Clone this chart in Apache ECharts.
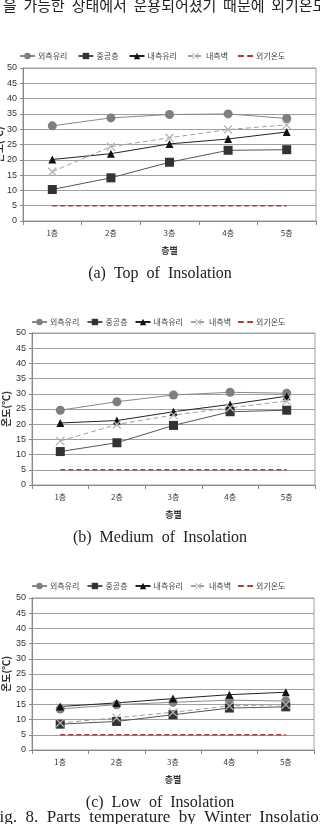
<!DOCTYPE html>
<html><head><meta charset="utf-8">
<script src="https://cdn.jsdelivr.net/npm/echarts@6/dist/echarts.min.js"></script>
<style>html,body{margin:0;padding:0;background:#fff}#c{width:320px;height:824px}</style>
</head><body><div id="c"></div>
<script>
var categories = ['1층','2층','3층','4층','5층'];
var seriesNames = ['외측유리','중공층','내측유리','내측벽','외기온도'];
// (a) Top of Insolation
var topOuter  = [31.1, 33.7, 34.8, 35.0, 33.5];
var topCavity = [10.3, 14.1, 19.2, 23.1, 23.3];
var topInner  = [20.1, 22.0, 25.2, 26.8, 29.1];
var topWall   = [16.1, 24.3, 27.2, 29.9, 31.4];
var topAir    = [5, 5, 5, 5, 5];
// (b) Medium of Insolation
var medOuter  = [24.6, 27.4, 29.6, 30.5, 30.2];
var medCavity = [11.0, 13.9, 19.6, 24.1, 24.6];
var medInner  = [20.4, 21.2, 24.1, 26.5, 29.2];
var medWall   = [14.5, 19.9, 23.0, 25.4, 27.6];
var medAir    = [5, 5, 5, 5, 5];
// (c) Low of Insolation
var lowOuter  = [13.5, 14.9, 15.7, 16.4, 16.1];
var lowCavity = [8.5, 9.4, 11.6, 13.8, 14.2];
var lowInner  = [14.3, 15.5, 16.9, 18.2, 19.0];
var lowWall   = [8.9, 10.6, 12.4, 14.5, 14.9];
var lowAir    = [5, 5, 5, 5, 5];
var yTicks = {min: 0, max: 50, interval: 5};
var captions = ['(a)  Top  of  Insolation','(b)  Medium  of  Insolation','(c)  Low  of  Insolation'];
var headText = '을  가능한  상태에서  운용되어졌기  때문에  외기온도';
var figText = 'Fig.  8.  Parts  temperature  by  Winter  Insolation';

var panels = [
  {data:[topOuter,topCavity,topInner,topWall,topAir], grid:{left:23,top:68,width:293,height:153}, legendTop:47, legendLeft:14, gap:10, nameGap:19, cap:274},
  {data:[medOuter,medCavity,medInner,medWall,medAir], grid:{left:32,top:333,width:283,height:152}, legendTop:313, legendLeft:26, gap:7, nameGap:21, cap:538},
  {data:[lowOuter,lowCavity,lowInner,lowWall,lowAir], grid:{left:32,top:598,width:282,height:152}, legendTop:577, legendLeft:26, gap:7, nameGap:21, cap:803}
];
var crossPath = 'path://M0,1L1,0L5,4L9,0L10,1L6,5L10,9L9,10L5,6L1,10L0,9L4,5Z';
var dashIcon = 'path://M0,0h5v1.6H0zM8,0h5v1.6H8z';
var styles = [
  {symbol:'circle', symbolSize:9, color:'#7f7f7f', line:{color:'#8a8a8a', width:1}},
  {symbol:'rect', symbolSize:9, color:'#333333', line:{color:'#555555', width:1}},
  {symbol:'triangle', symbolSize:8, color:'#111111', line:{color:'#222222', width:1}},
  {symbol:crossPath, symbolSize:9, color:'#b5b5b5', line:{color:'#a0a0a0', width:1, type:[5,3]}},
  {symbol:'none', symbolSize:0, color:'#b03a3a', line:{color:'#b03a3a', width:1.5, type:[5,3]}}
];
var font = '"Noto Sans CJK KR", sans-serif';
var option = {animation:false, grid:[], xAxis:[], yAxis:[], series:[], legend:[], graphic:[]};
panels.forEach(function(p, i){
  option.grid.push(Object.assign({show:true, borderColor:'#a0a0a0', borderWidth:1, containLabel:false, outerBoundsMode:'none'}, p.grid));
  option.xAxis.push({type:'category', gridIndex:i, data:categories, boundaryGap:true,
    name:'층별', nameLocation:'middle', nameGap:25, nameMoveOverlap:false,
    nameTextStyle:{fontFamily:font, fontSize:9, fontWeight:'bold', color:'#333'},
    axisLine:{lineStyle:{color:'#888'}}, axisTick:{show:true, length:4, lineStyle:{color:'#888'}},
    axisLabel:{fontFamily:font, fontSize:8, color:'#333', margin:8}});
  option.yAxis.push({type:'value', gridIndex:i, min:yTicks.min, max:yTicks.max, interval:yTicks.interval,
    name:'온도(℃)', nameLocation:'middle', nameGap:p.nameGap, nameRotate:90, nameMoveOverlap:false,
    nameTextStyle:{fontFamily:font, fontSize:10, fontWeight:'bold', color:'#333'},
    axisLine:{show:true, lineStyle:{color:'#888'}}, axisTick:{show:true, length:3, lineStyle:{color:'#888'}},
    axisLabel:{fontFamily:'Arial, "Liberation Sans", sans-serif', fontSize:9, color:'#333', margin:6},
    splitLine:{show:true, lineStyle:{color:'#a0a0a0', width:1}}});
  var legendData = [];
  seriesNames.forEach(function(n, k){
    var s = styles[k];
    var id = n + '#' + i;
    legendData.push(k === 4 ? {name:id, icon:dashIcon, itemStyle:{color:s.color}} : {name:id});
    option.series.push({type:'line', name:id, xAxisIndex:i, yAxisIndex:i, data:p.data[k],
      symbol:s.symbol, symbolSize:s.symbolSize, showSymbol:s.symbol!=='none',
      itemStyle:{color:s.color}, lineStyle:s.line, z: k===4?1:2});
  });
  option.legend.push({data:legendData, top:p.legendTop, left:p.legendLeft, itemWidth:15, itemHeight:8, itemGap:p.gap,
    formatter:function(n){return n.split('#')[0];},
    textStyle:{fontFamily:font, fontSize:8, color:'#444', padding:[0,0,0,-2]}});
  option.graphic.push({type:'text', left:'center', top:p.cap-8,
    style:{text:captions[i], font:'16px "Liberation Serif", "DejaVu Serif", serif', fill:'#222'}});
});
option.graphic.push({type:'text', left:3, top:-2, style:{text:headText, font:'15px "Noto Sans CJK KR", sans-serif', fill:'#222'}});
option.graphic.push({type:'text', left:-10, top:809, style:{text:figText, font:'17px "Liberation Serif", "DejaVu Serif", serif', fill:'#222'}});
var chart = echarts.init(document.getElementById('c'), null, {renderer:'canvas'});
chart.setOption(option);
</script></body></html>
